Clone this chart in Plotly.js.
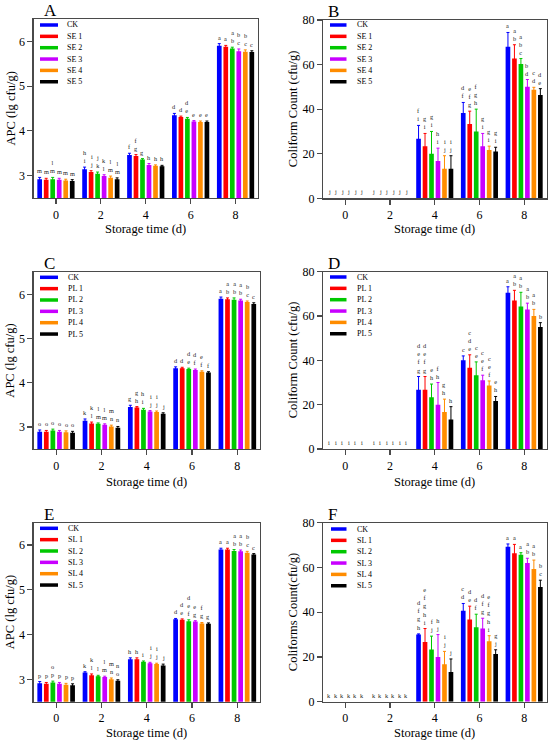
<!DOCTYPE html>
<html><head><meta charset="utf-8">
<script src="https://cdn.plot.ly/plotly-3.0.1.min.js"></script>
<style>html,body{margin:0;padding:0;background:#fff}#chart{width:550px;height:742px}</style>
</head><body><div id="chart"></div>
<script>
// ---------- data ----------
const days = [0, 2, 4, 6, 8];
const seNames = ["CK", "SE 1", "SE 2", "SE 3", "SE 4", "SE 5"];
const plNames = ["CK", "PL 1", "PL 2", "PL 3", "PL 4", "PL 5"];
const slNames = ["CK", "SL 1", "SL 2", "SL 3", "SL 4", "SL 5"];
const colors = ["#0000FF", "#FF0000", "#00C800", "#C800FF", "#FF8C00", "#000000"];

// Panel A: APC, SE groups [series][day]
const apcSE = [
  [2.92, 3.14, 3.46, 4.35, 5.90],
  [2.91, 3.08, 3.44, 4.31, 5.88],
  [2.92, 3.04, 3.36, 4.27, 5.84],
  [2.91, 2.99, 3.24, 4.21, 5.78],
  [2.89, 2.95, 3.22, 4.20, 5.77],
  [2.88, 2.92, 3.21, 4.20, 5.76]];
const apcSEerr = [
  [0.04, 0.05, 0.04, 0.04, 0.05],
  [0.03, 0.03, 0.03, 0.02, 0.03],
  [0.04, 0.04, 0.02, 0.03, 0.03],
  [0.03, 0.03, 0.03, 0.02, 0.05],
  [0.03, 0.04, 0.02, 0.02, 0.04],
  [0.03, 0.03, 0.02, 0.02, 0.03]];
const apcSElet = [
  ["m", "h<br>i", "f", "d", "a"],
  ["m", "i<br>j", "f<br>g", "d", "a"],
  ["l<br>m", "j<br>k", "g", "d<br>e", "a<br>b"],
  ["m", "k<br>l", "h", "e", "b<br>c"],
  ["m", "l<br>m", "h", "e", "b<br>c"],
  ["m", "l<br>m", "h", "e", "c"]];

// Panel B: Coliform, SE groups
const coliSE = [
  [0, 0, 26.7, 38.3, 68.0],
  [0, 0, 23.3, 33.3, 62.7],
  [0, 0, 20.0, 30.0, 60.3],
  [0, 0, 16.7, 23.3, 50.0],
  [0, 0, 13.3, 21.7, 48.7],
  [0, 0, 13.3, 21.0, 46.3]];
const coliSEerr = [
  [0, 0, 6.0, 4.7, 6.4],
  [0, 0, 5.8, 5.8, 6.2],
  [0, 0, 10.0, 10.0, 2.4],
  [0, 0, 5.8, 5.8, 3.3],
  [0, 0, 5.8, 1.7, 1.1],
  [0, 0, 5.8, 1.9, 2.9]];
const coliSElet = [
  ["j", "j", "f<br>i", "d<br>f", "a"],
  ["j", "j", "g<br>i", "e<br>f<br>g", "a<br>b"],
  ["j", "j", "g<br>i", "f<br>g<br>h", "a<br>b<br>c"],
  ["j", "j", "h<br>i", "g<br>i", "b<br>d"],
  ["j", "j", "i<br>j", "g<br>i", "c<br>d"],
  ["j", "j", "i<br>j", "g<br>i", "d<br>e"]];

// Panel C: APC, PL groups
const apcPL = [
  [2.89, 3.14, 3.45, 4.33, 5.90],
  [2.89, 3.08, 3.44, 4.33, 5.89],
  [2.92, 3.07, 3.39, 4.31, 5.88],
  [2.89, 3.05, 3.35, 4.29, 5.86],
  [2.88, 3.01, 3.34, 4.25, 5.83],
  [2.87, 2.98, 3.30, 4.23, 5.78]];
const apcPLerr = [
  [0.04, 0.04, 0.04, 0.03, 0.04],
  [0.03, 0.03, 0.02, 0.02, 0.03],
  [0.03, 0.02, 0.03, 0.02, 0.04],
  [0.03, 0.02, 0.02, 0.02, 0.03],
  [0.03, 0.03, 0.02, 0.02, 0.02],
  [0.03, 0.03, 0.02, 0.02, 0.03]];
const apcPLlet = [
  ["o", "k", "g", "d", "a"],
  ["o", "k<br>l", "g<br>h", "d", "a<br>b"],
  ["o", "l<br>m", "h<br>i", "d<br>e", "a<br>b"],
  ["o", "l<br>m", "i<br>j", "d<br>f", "a<br>b"],
  ["o", "m<br>n", "i<br>j", "e<br>f", "b<br>c"],
  ["o", "n", "j", "f", "c"]];

// Panel D: Coliform, PL groups
const coliPL = [
  [0, 0, 26.7, 40.0, 70.5],
  [0, 0, 26.7, 36.7, 67.0],
  [0, 0, 23.3, 33.3, 64.3],
  [0, 0, 20.0, 31.0, 63.0],
  [0, 0, 16.7, 28.7, 60.0],
  [0, 0, 13.3, 21.7, 55.0]];
const coliPLerr = [
  [0, 0, 6.0, 2.0, 2.7],
  [0, 0, 6.0, 5.8, 4.6],
  [0, 0, 6.0, 6.0, 6.4],
  [0, 0, 10.0, 2.3, 2.8],
  [0, 0, 5.8, 2.0, 3.0],
  [0, 0, 5.8, 2.0, 2.0]];
const coliPLlet = [
  ["i", "i", "d<br>e<br>f<br>g", "c", "a"],
  ["i", "i", "d<br>e<br>f<br>g", "c<br>d<br>e", "a<br>b"],
  ["i", "i", "e<br>h", "c<br>e", "a<br>b"],
  ["i", "i", "f<br>h", "c<br>e<br>f", "a<br>b"],
  ["i", "i", "g<br>h", "c<br>e<br>f", "a<br>b"],
  ["i", "i", "h", "e<br>h", "b"]];

// Panel E: APC, SL groups
const apcSL = [
  [2.91, 3.15, 3.45, 4.34, 5.90],
  [2.90, 3.09, 3.45, 4.33, 5.90],
  [2.93, 3.07, 3.39, 4.30, 5.87],
  [2.90, 3.05, 3.36, 4.29, 5.86],
  [2.88, 3.00, 3.34, 4.25, 5.83],
  [2.87, 2.97, 3.31, 4.24, 5.79]];
const apcSLerr = [
  [0.04, 0.02, 0.03, 0.02, 0.03],
  [0.03, 0.03, 0.03, 0.02, 0.03],
  [0.03, 0.02, 0.02, 0.03, 0.03],
  [0.03, 0.02, 0.02, 0.02, 0.03],
  [0.03, 0.03, 0.02, 0.02, 0.03],
  [0.03, 0.02, 0.03, 0.02, 0.02]];
const apcSLlet = [
  ["p", "k", "h", "d", "a"],
  ["p", "k<br>l", "h", "d<br>e", "a"],
  ["o<br>p", "l", "i", "d<br>e<br>f", "a<br>b"],
  ["p", "l<br>m", "i<br>j", "e<br>g", "a<br>b"],
  ["p", "m<br>n", "i<br>j", "f<br>g", "b<br>c"],
  ["p", "n<br>o", "j", "g", "c"]];

// Panel F: Coliforms, SL groups
const coliSL = [
  [0, 0, 30.0, 40.7, 69.3],
  [0, 0, 26.7, 36.7, 66.3],
  [0, 0, 23.3, 33.3, 65.7],
  [0, 0, 20.0, 32.7, 62.0],
  [0, 0, 16.7, 27.0, 59.3],
  [0, 0, 13.3, 21.3, 51.3]];
const coliSLerr = [
  [0, 0, 0.3, 3.2, 1.2],
  [0, 0, 6.0, 6.0, 4.0],
  [0, 0, 6.0, 5.8, 0.9],
  [0, 0, 10.0, 4.6, 2.1],
  [0, 0, 5.8, 2.5, 4.0],
  [0, 0, 5.8, 1.9, 3.0]];
const coliSLlet = [
  ["k", "k", "d<br>f<br>g<br>h", "c<br>d", "a"],
  ["k", "k", "e<br>f<br>g<br>h<br>i", "d<br>e", "a"],
  ["k", "k", "f<br>j", "d<br>f", "a"],
  ["k", "k", "h<br>j", "d<br>f<br>g", "a<br>b"],
  ["k", "k", "i<br>j", "e<br>f<br>g<br>h<br>i", "a<br>b"],
  ["k", "k", "j", "g<br>j", "b<br>c"]];

const apcTicks = [3, 4, 5, 6];
const coliTicks = [0, 20, 40, 60, 80];

// ---------- layout ----------
const W = 550, H = 742;
const FONT = "Liberation Serif, Times New Roman, serif";
const bargap = 0.13, bargroupgap = 0.28;
const slot = 2 * (1 - bargap) / 6;
const px = v => v / W, py = v => 1 - v / H;

const panels = [
  {tag:"A", v:apcSE, e:apcSEerr, l:apcSElet, n:seNames, x0:33.5, x1:258, y0:19, y1:198, yr:[2.5,6.5], yt:apcTicks, title:"APC (lg cfu/g)", ytx:10, xty:229, tagx:41.7, sw0:40, sw1:58, tx:65, ty0:25},
  {tag:"B", v:coliSE, e:coliSEerr, l:coliSElet, n:seNames, x0:323, x1:546.5, y0:20, y1:198.3, yr:[0,80], yt:coliTicks, title:"Coliform Count (cfu/g)", ytx:293, xty:229, tagx:325.7, sw0:330, sw1:346.5, tx:355, ty0:25},
  {tag:"C", v:apcPL, e:apcPLerr, l:apcPLlet, n:plNames, x0:33.5, x1:260, y0:272.3, y1:449, yr:[2.5,6.5], yt:apcTicks, title:"APC (lg cfu/g)", ytx:10, xty:481.7, tagx:41.7, sw0:40, sw1:58, tx:65.5, ty0:277.3},
  {tag:"D", v:coliPL, e:coliPLerr, l:coliPLlet, n:plNames, x0:323, x1:546.5, y0:271.7, y1:449, yr:[0,80], yt:coliTicks, title:"Coliform Count (cfu/g)", ytx:293, xty:481.7, tagx:325.7, sw0:330, sw1:346.5, tx:355, ty0:277},
  {tag:"E", v:apcSL, e:apcSLerr, l:apcSLlet, n:slNames, x0:33.5, x1:260, y0:522.7, y1:701.7, yr:[2.5,6.5], yt:apcTicks, title:"APC (lg cfu/g)", ytx:10, xty:733.3, tagx:41.7, sw0:40, sw1:58, tx:65.5, ty0:528.3},
  {tag:"F", v:coliSL, e:coliSLerr, l:coliSLlet, n:slNames, x0:323, x1:546.5, y0:522.7, y1:701.7, yr:[0,80], yt:coliTicks, title:"Coliforms Count(cfu/g)", ytx:293, xty:733.3, tagx:325.7, sw0:331, sw1:346.5, tx:355, ty0:529}
];

const traces = [];
const annotations = [];
const shapes = [];
const layout = {
  width: W, height: H,
  margin: {l:0, r:0, t:0, b:0},
  paper_bgcolor: "#fff", plot_bgcolor: "#fff",
  barmode: "group", bargap: bargap, bargroupgap: bargroupgap,
  showlegend: false,
  font: {family: FONT, color: "#000"}
};

const axisCommon = {
  showline: true, mirror: true, linecolor: "#4a4a4a", linewidth: 1.2,
  ticks: "outside", ticklen: 5, tickwidth: 1.2, tickcolor: "#4a4a4a",
  showgrid: false, zeroline: false, fixedrange: true,
  tickfont: {family: FONT, size: 12, color: "#000"}
};

panels.forEach((p, k) => {
  const s = k === 0 ? "" : String(k + 1);
  layout["xaxis" + s] = Object.assign({}, axisCommon, {
    domain: [px(p.x0), px(p.x1)], anchor: "y" + s, range: [-1, 9],
    tickvals: days, ticktext: days.map(String)
  });
  layout["yaxis" + s] = Object.assign({}, axisCommon, {
    domain: [py(p.y1), py(p.y0)], anchor: "x" + s, range: p.yr, tickvals: p.yt
  });
  p.v.forEach((vals, j) => {
    traces.push({
      type: "bar", x: days, y: vals, name: p.n[j],
      xaxis: "x" + s, yaxis: "y" + s,
      marker: {color: colors[j], line: {width: 0}},
      error_y: {type: "data", array: p.e[j].map(v => v === 0 ? NaN : v), visible: true,
                color: colors[j], thickness: 1, width: 1.5},
      hoverinfo: "skip", showlegend: false
    });
    vals.forEach((v, i) => {
      annotations.push({
        xref: "x" + s, yref: "y" + s,
        x: days[i] + (j - 2.5) * slot, y: v + p.e[j][i],
        text: p.l[j][i], showarrow: false, xanchor: "center", yanchor: "bottom", yshift: 1,
        font: {family: FONT, size: 6.3, color: "#222"}
      });
    });
    // legend
    const ty = p.ty0 + j * 11.35;
    shapes.push({type: "line", xref: "paper", yref: "paper",
      x0: px(p.sw0), x1: px(p.sw1), y0: py(ty), y1: py(ty),
      line: {color: colors[j], width: 3.5}});
    annotations.push({xref: "paper", yref: "paper", x: px(p.tx), y: py(ty),
      text: p.n[j], showarrow: false, xanchor: "left", yanchor: "middle",
      font: {family: FONT, size: 8, color: "#000"}});
  });
  // panel tag
  annotations.push({xref: "paper", yref: "paper", x: px(p.tagx), y: py(p.y0),
    text: p.tag, showarrow: false, xanchor: "left", yanchor: "bottom", yshift: -3,
    font: {family: FONT, size: 17, color: "#000"}});
  // axis titles
  annotations.push({xref: "paper", yref: "paper", x: px(p.ytx), y: py((p.y0 + p.y1) / 2),
    text: p.title, textangle: -90, showarrow: false, xanchor: "center", yanchor: "middle",
    font: {family: FONT, size: 12.5, color: "#000"}});
  annotations.push({xref: "paper", yref: "paper", x: px((p.x0 + p.x1) / 2), y: py(p.xty),
    text: "Storage time (d)", showarrow: false, xanchor: "center", yanchor: "middle",
    font: {family: FONT, size: 12.5, color: "#000"}});
});

layout.annotations = annotations;
layout.shapes = shapes;

Plotly.newPlot("chart", traces, layout, {staticPlot: true, displayModeBar: false});
</script>
</body></html>
